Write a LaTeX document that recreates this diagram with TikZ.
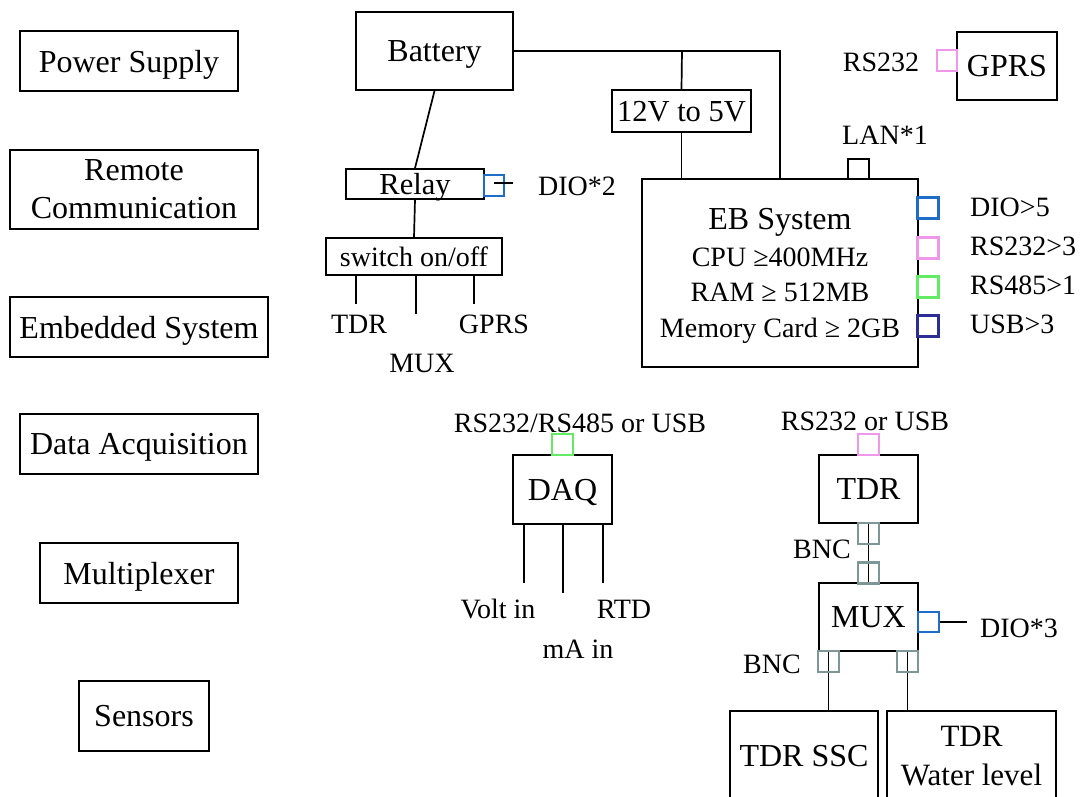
\documentclass[tikz,border=0pt]{standalone}
\usepackage{fontspec}
\setmainfont{Liberation Serif}
\newcommand\fbig{\fontsize{32}{36}\selectfont}
\newcommand\fmid{\fontsize{30.5}{36}\selectfont}
\newcommand\fsmall{\fontsize{28}{35.7}\selectfont}
\definecolor{pblue}{RGB}{30,110,200}
\definecolor{ppink}{RGB}{240,150,235}
\definecolor{pgreen}{RGB}{100,235,100}
\definecolor{pnavy}{RGB}{45,45,150}
\definecolor{pbnc}{RGB}{125,150,150}
\tikzset{
  box/.style={draw, line width=1.7pt, inner sep=0pt, align=center, font=\fbig, text depth=0pt},
  port/.style={draw, line width=2.4pt, minimum width=21pt, minimum height=21pt, inner sep=0pt},
  lbl/.style={inner sep=0pt, font=\fsmall},
  wire/.style={line width=1.7pt}
}
\begin{document}
\begin{tikzpicture}[x=1pt,y=-1pt]
\useasboundingbox (0,0) rectangle (1088,796);
\clip (0,0) rectangle (1088,796);
\fill[white] (0,0) rectangle (1088,796);

% left column
\node[box, minimum width=218pt, minimum height=60pt] (ps) at (129,61) {Power Supply};
\node[box, minimum width=248pt, minimum height=79pt, font=\fontsize{32}{38}\selectfont] (rc) at (134,189.5) {Remote\\Communication};
\node[box, minimum width=258pt, minimum height=60pt] (es) at (139,327) {Embedded System};
\node[box, minimum width=238pt, minimum height=60pt] (da) at (139,444) {Data Acquisition};
\node[box, minimum width=198pt, minimum height=60pt] (mx) at (139,573) {Multiplexer};
\node[box, minimum width=130pt, minimum height=70pt] (se) at (144,716) {Sensors};

% power
\node[box, minimum width=157pt, minimum height=78pt] (bat) at (434.5,51) {Battery};
\node[box, minimum width=139pt, minimum height=42pt, font=\fmid] (conv) at (681.5,111) {12V to 5V};
\node[box, minimum width=276pt, minimum height=188pt, font=\fsmall] (eb) at (780,273)
  {{\fbig EB System}\\[1pt]CPU ≥400MHz\\RAM ≥ 512MB\\Memory Card ≥ 2GB};
\coordinate (j1) at (682,51);
\coordinate (j2) at (780,51);
\draw[wire] (bat.east) -- (j2) -- (eb.north);
\draw[wire] (j1) -- (conv.north);
\draw[wire] (conv.south) -- (conv.south |- eb.north);

% EB ports
\node[port, draw=black, minimum height=20pt] (lan) at (858.5,169) {};
\node[lbl, anchor=center] (lanl) at (885,135) {LAN*1};
\node[port, draw=pblue] (pdio) at (928,208) {};
\node[port, draw=ppink] (p232) at (928,248) {};
\node[port, draw=pgreen] (p485) at (928,287) {};
\node[port, draw=pnavy] (pusb) at (928,326) {};
\node[lbl, anchor=west] (ldio) at (970,207) {DIO>5};
\node[lbl, anchor=west] (l232) at (970,246) {RS232>3};
\node[lbl, anchor=west] (l485) at (970,285) {RS485>1};
\node[lbl, anchor=west] (lusb) at (970,324) {USB>3};

% GPRS
\node[box, minimum width=100pt, minimum height=68pt] (gprs) at (1007,66) {GPRS};
\node[port, draw=ppink, minimum width=20pt] (pg) at (947,60.5) {};
\node[lbl] (lg) at (881,62) {RS232};

% relay and switch
\node[box, minimum width=138pt, minimum height=30pt, font=\fmid] (relay) at (415,184) {Relay};
\node[port, draw=pblue, minimum width=20pt] (prel) at (494,185.5) {};
\coordinate (dio2end) at (513,183);
\draw[wire] (prel.center |- dio2end) -- (dio2end);
\node[lbl] (ldio2) at (577,186) {DIO*2};
\node[box, minimum width=176pt, minimum height=37pt, font=\fsmall] (sw) at (414,256.5) {switch on/off};
\draw[wire] (bat.south) -- (relay.north);
\draw[wire] (relay.south) -- (sw.north);
\coordinate (s1) at (356,304);
\coordinate (s2) at (416,314);
\coordinate (s3) at (474,304);
\draw[wire] (s1 |- sw.south) -- (s1);
\draw[wire] (s2 |- sw.south) -- (s2);
\draw[wire] (s3 |- sw.south) -- (s3);
\node[lbl] (ltdr) at (359,324) {TDR};
\node[lbl] (lmux) at (422,363) {MUX};
\node[lbl] (lgprs) at (494,324) {GPRS};

% DAQ
\node[lbl] (ldaq) at (580,423) {RS232/RS485 or USB};
\node[box, minimum width=99pt, minimum height=69pt] (daq) at (562.5,489.5) {DAQ};
\node[port, draw=pgreen] (pdaq) at (562.5,444.5) {};
\coordinate (d1) at (524,583);
\coordinate (d2) at (563,593);
\coordinate (d3) at (603,583);
\draw[wire] (d1 |- daq.south) -- (d1);
\draw[wire] (d2 |- daq.south) -- (d2);
\draw[wire] (d3 |- daq.south) -- (d3);
\node[lbl] (lvolt) at (498,609) {Volt in};
\node[lbl] (lrtd) at (624,609) {RTD};
\node[lbl] (lma) at (578,649) {mA in};

% TDR chain
\node[lbl] (ltdru) at (865,421) {RS232 or USB};
\node[box, minimum width=99pt, minimum height=68pt] (tdr) at (868.5,489) {TDR};
\node[port, draw=ppink] (ptdr) at (868.5,444.5) {};
\node[box, minimum width=99pt, minimum height=68pt] (mux) at (868.5,617) {MUX};
\draw[wire] (tdr.south) -- (mux.north);
\node[port, draw=pbnc] (b1) at (868.5,533.5) {};
\node[port, draw=pbnc] (b2) at (868.5,573) {};
\node[lbl] (lbnc1) at (822,549) {BNC};
\node[port, draw=pblue, minimum height=20pt] (pmux) at (928.5,622) {};
\coordinate (dio3end) at (967,622);
\draw[wire] (pmux.east) -- (dio3end);
\node[lbl] (ldio3) at (1019,628) {DIO*3};

\node[box, minimum width=148pt, minimum height=89pt] (ssc) at (804,755.5) {TDR SSC};
\node[box, minimum width=169pt, minimum height=89pt, font=\fontsize{31}{39}\selectfont] (wl) at (971.5,755.5) {TDR\\Water level};
\coordinate (m1) at (828.5,651);
\coordinate (m2) at (907.5,651);
\draw[wire] (m1) -- (m1 |- ssc.north);
\draw[wire] (m2) -- (m2 |- wl.north);
\node[port, draw=pbnc] (b3) at (828.5,661.5) {};
\node[port, draw=pbnc] (b4) at (907.5,661.5) {};
\node[lbl] (lbnc2) at (772,664) {BNC};
\end{tikzpicture}
\end{document}
